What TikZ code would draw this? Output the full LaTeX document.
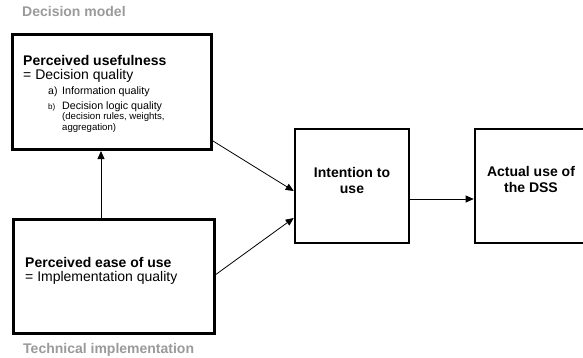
\documentclass[tikz,border=0pt]{standalone}
\usepackage{fontspec}
\setmainfont{Liberation Sans}
\usetikzlibrary{arrows.meta}
\definecolor{lbl}{HTML}{9A9A9A}
\tikzset{
  box/.style={draw=black, line width=2.6pt, rectangle, inner sep=0pt},
  arr/.style={draw=black, line width=0.8pt, -{Triangle[length=8pt,width=7pt]}},
  txt/.style={anchor=base west, inner sep=0pt, align=left},
  ctr/.style={anchor=base, inner sep=0pt, align=center, font=\fontsize{14}{16}\selectfont\bfseries},
  grp/.style={anchor=base west, inner sep=0pt, text=lbl, font=\fontsize{14}{16}\selectfont\bfseries}
}
\begin{document}
\begin{tikzpicture}[x=1pt,y=1pt]
\useasboundingbox (0,0) rectangle (583,357);
\clip (0,0) rectangle (583,357);
% boxes
\node[box, line width=3pt, minimum width=199pt, minimum height=115pt] (top) at (112,265) {};
\node[box, minimum width=201pt, minimum height=114pt] (bot) at (114,80.5) {};
\node[box, minimum width=114pt, minimum height=114pt] (int) at (352,171) {};
\node[box, minimum width=130pt, minimum height=114pt] (act) at (540,171) {};
% group labels
\node[grp] (lblA) at (22,340) {Decision model};
\node[grp] (lblB) at (23,4) {Technical implementation};
% top box text
\node[txt, font=\fontsize{14}{16}\selectfont\bfseries] (t1) at (23,292) {Perceived usefulness};
\node[txt, font=\fontsize{14}{16}\selectfont] (t2) at (23,278) {= Decision quality};
\node[txt, font=\fontsize{10.5}{13}\selectfont] (t3a) at (48,263) {a)};
\node[txt, font=\fontsize{10.7}{13}\selectfont] (t3) at (62,263) {Information quality};
\node[txt, font=\fontsize{8}{10}\selectfont] (t4a) at (48,248) {b)};
\node[txt, font=\fontsize{10.7}{13}\selectfont] (t4) at (62,248) {Decision logic quality};
\node[txt, font=\fontsize{9.6}{11}\selectfont] (t5) at (62,237.5) {(decision rules, weights,};
\node[txt, font=\fontsize{9.6}{11}\selectfont] (t6) at (62,226.5) {aggregation)};
% bottom box text
\node[txt, font=\fontsize{14}{16}\selectfont\bfseries] (b1) at (25,90) {Perceived ease of use};
\node[txt, font=\fontsize{14}{16}\selectfont] (b2) at (25,76) {= Implementation quality};
% right boxes text
\node[ctr] (i1) at (352,180) {Intention to};
\node[ctr] (i2) at (352,164) {use};
\node[ctr] (a1) at (531,181) {Actual use of};
\node[ctr] (a2) at (531,165) {the DSS};
% connectors
\draw[arr] ([yshift=-49pt]top.east) -- ([yshift=-5pt]int.west);
\draw[arr] ([yshift=2pt]bot.east) -- ([yshift=-32pt]int.west);
\draw[arr] ([yshift=-13pt]int.east) -- ([yshift=-13pt]int.east -| act.west);
\draw[arr] ([xshift=-13pt]bot.north) -- ([xshift=-13pt]bot.north |- top.south);
\end{tikzpicture}
\end{document}
